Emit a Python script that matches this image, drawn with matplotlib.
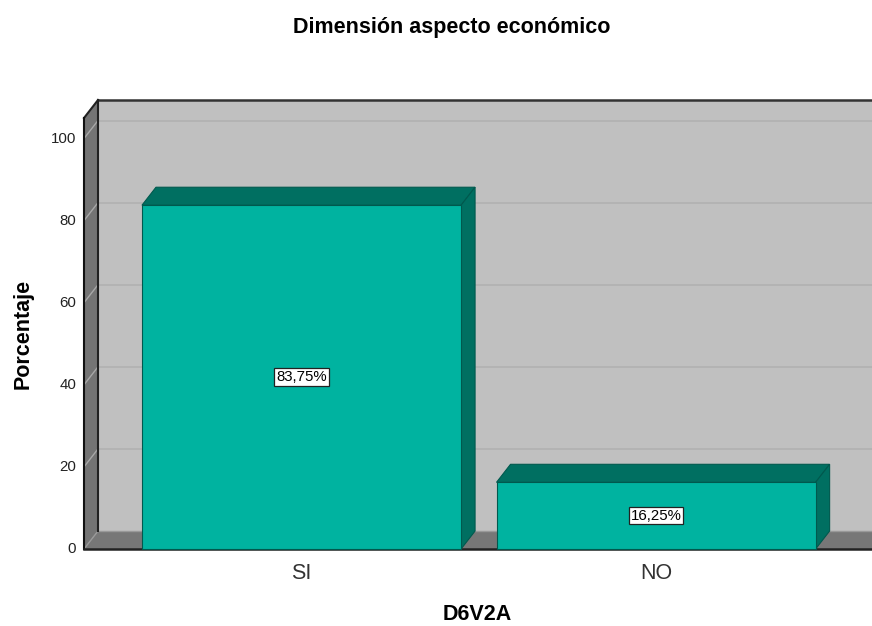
import matplotlib.pyplot as plt
from matplotlib.patches import Polygon

plt.rcParams['font.family'] = ['Liberation Sans', 'DejaVu Sans']

categories = ['SI', 'NO']
percent = [83.75, 16.25]
bar_labels = ['83,75%', '16,25%']
yticks = [0, 20, 40, 60, 80, 100]

W, H = 872, 626
fig = plt.figure(figsize=(W / 100, H / 100), dpi=100)

# front plane of the 3D box, in pixels
left_px, bottom_px, top_px = 84, 549, 118
ymax = 105
ax = fig.add_axes([left_px / W, 1 - bottom_px / H, (W - left_px) / W, (bottom_px - top_px) / H])
x0 = -0.6135
x1 = 1.609
ax.set_xlim(x0, x1)
ax.set_ylim(0, ymax)
ax.axis('off')

# depth offset in data units (about 14 px right, 18 px up)
unit_x = (W - left_px) / (x1 - x0)
unit_y = (bottom_px - top_px) / ymax
dx = 14 / unit_x
dy = 18 / unit_y

def poly(pts, fc, ec='none', lw=0, z=1):
    ax.add_patch(Polygon(pts, closed=True, facecolor=fc, edgecolor=ec,
                         linewidth=lw, zorder=z, clip_on=False))

xr = x1 + 0.2
top = ymax

# back wall
poly([(x0 + dx, dy), (xr, dy), (xr, top + dy), (x0 + dx, top + dy)], '#c0c0c0', z=1)
# left wall
poly([(x0, 0), (x0 + dx, dy), (x0 + dx, top + dy), (x0, top)], '#747474', z=2)
# floor
poly([(x0, 0), (xr, 0), (xr, dy), (x0 + dx, dy)], '#777777', z=2)

# gridlines on back wall and left wall
for v in yticks[1:]:
    ax.plot([x0 + dx, xr], [v + dy, v + dy], color='#b0b0b0', lw=1.1, zorder=1.5, clip_on=False)
    ax.plot([x0, x0 + dx], [v, v + dy], color='#a8a8a8', lw=1.0, zorder=2.5, clip_on=False)

# edges
ax.plot([x0 + dx, xr], [top + dy, top + dy], color='#333333', lw=1.8, zorder=3, clip_on=False)
ax.plot([x0, x0 + dx], [top, top + dy], color='#222222', lw=1.5, zorder=3, clip_on=False)
ax.plot([x0 + dx, x0 + dx], [dy, top + dy], color='#222222', lw=1.5, zorder=3, clip_on=False)
ax.plot([x0, x0], [0, top], color='#111111', lw=1.5, zorder=3, clip_on=False)
ax.plot([x0, xr], [0, 0], color='#222222', lw=1.8, zorder=3, clip_on=False)
ax.plot([x0 + dx, xr], [dy, dy], color='#999999', lw=1.0, zorder=2.6, clip_on=False)
ax.plot([x0, x0 + dx], [0, dy], color='#9a9a9a', lw=1.0, zorder=2.6, clip_on=False)

# bars
bw = 0.9
front_c = '#00b3a0'
dark_c = '#006f61'
edge_c = '#00594e'
for i, val in enumerate(percent):
    a, b = i - bw / 2, i + bw / 2
    poly([(a, val), (b, val), (b + dx, val + dy), (a + dx, val + dy)], dark_c, edge_c, 0.8, z=4)
    poly([(b, 0), (b + dx, dy), (b + dx, val + dy), (b, val)], dark_c, edge_c, 0.8, z=4)
    poly([(a, 0), (b, 0), (b, val), (a, val)], front_c, edge_c, 0.8, z=5)
    ax.text(i, val / 2, bar_labels[i], ha='center', va='center', fontsize=10.8, zorder=6,
            bbox=dict(boxstyle='square,pad=0.12', fc='white', ec='#222222', lw=0.9))
    ax.text(i, -6.0, categories[i], ha='center', va='center', fontsize=15.5,
            color='#333333', zorder=6)

for v in yticks:
    ax.text(x0 - 0.022, v, str(v), ha='right', va='center', fontsize=10.8, color='#222222')

fig.text(477 / W, 1 - 614 / H, 'D6V2A', ha='center', va='center', fontsize=15.5, fontweight='bold')
fig.text(23 / W, 1 - 334 / H, 'Porcentaje', ha='center', va='center', rotation=90,
         fontsize=15.5, fontweight='bold')
fig.text(452 / W, 1 - 28 / H, 'Dimensión aspecto económico', ha='center', va='center',
         fontsize=15.5, fontweight='bold')

fig.savefig('out.png', dpi=100)
